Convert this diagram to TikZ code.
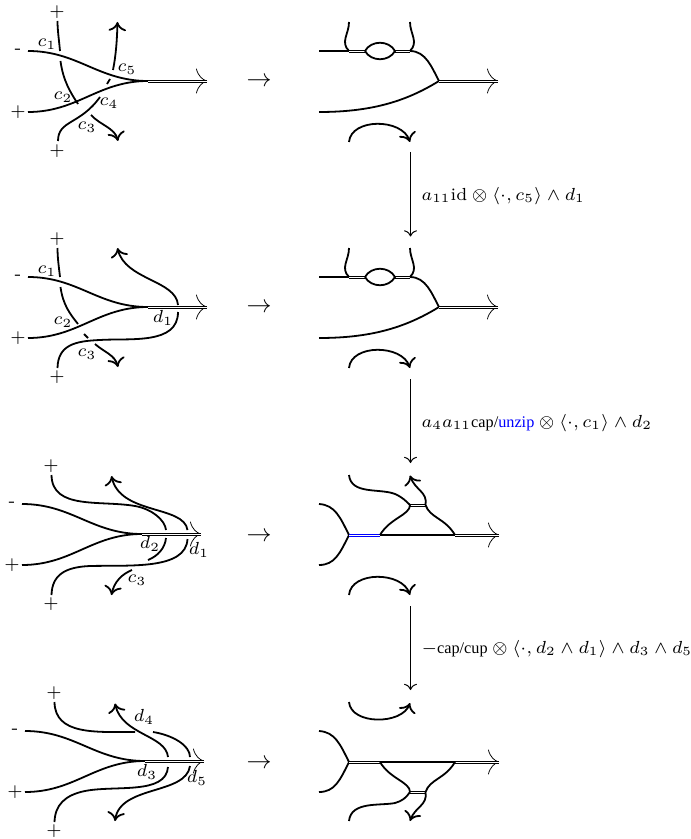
\documentclass[tikz,border=0pt]{standalone}
\usepackage{amsmath, amssymb}
\usepackage{fontspec}
\usepackage{tikz}
\usepackage{xcolor}
\usetikzlibrary{arrows.meta}
\newfontfamily\opfont{Liberation Serif}
\newcommand{\opname}[1]{\mbox{\fontsize{6.5}{8}\opfont #1}}
\tikzset{
  strand/.style={line width=.72pt},
  strandend/.style={strand,-{Computer Modern Rightarrow[length=3.6pt,width=7pt,line width=.72pt]}},
  doubled/.style={transform canvas={yshift=-.2pt},line width=1.2pt,draw=#1,postaction={draw=white,line width=.4pt}},
  doubled/.default=black,
  ziptip/.style={line width=.3pt,-{Computer Modern Rightarrow[length=4.4pt,width=10pt,line width=.3pt]}},
  zipped/.style={preaction={draw,ziptip},doubled,shorten >=.8pt},
  lbl/.style={font=\scriptsize,inner sep=0pt},
  sgn/.style={font=\scriptsize,inner sep=0pt,yshift=-.4pt},
  mapsym/.style={inner sep=0pt},
  step label/.style={font=\scriptsize,anchor=west,inner sep=0pt}
}
\newcommand{\incoming}[1]{
  \begin{scope}[shift={(#1)}]
    \node[sgn] (M) at (-10,-1) {-};
    \node[sgn] (P) at (-10,60) {+};
    \coordinate (J) at (120,30);
    \coordinate (E) at (181,30);
    \draw[strand] (0,0) .. controls (50,0) and (70,30) .. (J);
    \draw[strand] (0,61) .. controls (50,61) and (70,30) .. (J);
    \draw[zipped] (J) -- (E);
  \end{scope}
}
\newcommand{\lensright}[1]{
  \begin{scope}[yshift=#1*-.4pt]
    \coordinate (L) at (349,51);
    \coordinate (R) at (410,51);
    \coordinate (A) at (365,51);
    \coordinate (B) at (395,51);
    \coordinate (J) at (439,81);
    \coordinate (E) at (500,81);
    \draw[strand] (319,51) -- (L);
    \draw[doubled] (L) -- (A);
    \draw[doubled] (B) -- (R);
    \draw[strand] (A) .. controls (371,40) and (389,40) .. (B) .. controls (389,62) and (371,62) .. (A);
    \draw[strand] (349,22) .. controls (349,34) and (340,42) .. (L);
    \draw[strand] (410,22) .. controls (410,34) and (419,42) .. (R);
    \draw[strand] (R) .. controls (426,51) and (432,68) .. (J);
    \draw[strand] (319,112) .. controls (370,112) and (405,102) .. (J);
    \draw[zipped] (J) -- (E);
  \end{scope}
}
\newcommand{\capright}[1]{
  \coordinate (C1) at (349,#1);
  \coordinate (C2) at (410,#1);
  \draw[strandend] (C1) .. controls (351,#1-24) and (402,#1-24) .. (C2);
}
\begin{document}
\begin{tikzpicture}[x=.4pt,y=-.4pt]
  \useasboundingbox (0,0) rectangle (691,839);

  \incoming{28,51}
  \node[sgn] (P1) at (57,11) {+};
  \node[sgn] (P2) at (57,150) {+};
  \draw[strand] (57.5,21) .. controls (57.5,30) and (59,40) .. (60,51);
  \draw[strand] (60.5,61) .. controls (63,80) and (70,92) .. (78,104);
  \draw[strandend] (91,115) .. controls (100,125) and (115,128) .. (118,141);
  \draw[strand] (58,141) .. controls (58,120) and (80,125) .. (100,97);
  \draw[strand] (107,84) -- (110,79);
  \draw[strandend] (113,70) .. controls (116,55) and (117,40) .. (117.5,22);
  \node[lbl] (c1) at (47,44) {$c_1$};
  \node[lbl] (c5) at (127,69) {$c_5$};
  \node[lbl] (c2) at (63,97) {$c_2$};
  \node[lbl] (c4) at (109,103) {$c_4$};
  \node[lbl] (c3) at (87,127) {$c_3$};
  \node[mapsym] (T1) at (259,82) {$\rightarrow$};
  \lensright{0}
  \capright{142}
  \coordinate (V1) at (410.5,152);
  \coordinate (W1) at (410.5,236.5);
  \draw[->] (V1) to (W1);
  \node[step label] (S1) at (421,196) {$a_{11}\mathrm{id}\otimes\langle\cdot,c_5\rangle\wedge d_1$};

  \incoming{28,277}
  \node[sgn] (P3) at (57,238) {+};
  \node[sgn] (P4) at (57,376) {+};
  \draw[strand] (57.5,248) .. controls (57.5,258) and (59,268) .. (60,277);
  \draw[strand] (60.5,287) .. controls (63,305) and (70,314) .. (78,324);
  \draw[strand] (84,334) -- (88,338);
  \draw[strandend] (95,344) .. controls (104,352) and (115,355) .. (118,367);
  \draw[strandend] (178,305) .. controls (176,280) and (125,280) .. (117.5,248);
  \draw[strand] (178,312) .. controls (178,345) and (130,338) .. (100,340) .. controls (75,341) and (58,345) .. (57.5,368);
  \node[lbl] (c6) at (47,271) {$c_1$};
  \node[lbl] (c7) at (63,322) {$c_2$};
  \node[lbl] (c8) at (87,354) {$c_3$};
  \node[lbl] (d1) at (163,318) {$d_1$};
  \node[mapsym] (T2) at (259,308) {$\rightarrow$};
  \lensright{226}
  \capright{368}
  \coordinate (V2) at (410.5,379);
  \coordinate (W2) at (410.5,463);
  \draw[->] (V2) to (W2);
  \node[step label] (S2) at (421,423) {$a_4a_{11}\opname{cap/\textcolor{blue}{unzip}}\otimes\langle\cdot,c_1\rangle\wedge d_2$};

  \incoming{22,504}
  \node[sgn] (P5) at (51,465) {+};
  \node[sgn] (P6) at (51,603) {+};
  \draw[strand] (51.5,475) .. controls (52,510) and (100,500) .. (135,506) .. controls (152,509) and (165,520) .. (166,530);
  \draw[strand] (166,538) .. controls (165,548) and (158,556) .. (148,560);
  \draw[strandend] (187.5,530) .. controls (184,505) and (120,515) .. (111.5,476);
  \draw[strand] (187.5,539) .. controls (186,570) and (130,565) .. (90,566) .. controls (65,567) and (52,575) .. (51.5,595);
  \draw[strandend] (132,570) .. controls (122,574) and (114,582) .. (111.5,595);
  \node[lbl] (c9) at (137,580) {$c_3$};
  \node[lbl] (d2) at (150,544) {$d_2$};
  \node[lbl] (d3) at (199,550) {$d_1$};
  \node[mapsym] (T3) at (259,537) {$\rightarrow$};
  \coordinate (J) at (349,535);
  \coordinate (G) at (380,535);
  \coordinate (H) at (455,535);
  \coordinate (E) at (501,535);
  \coordinate (U) at (410,505);
  \coordinate (K) at (425.5,505);
  \draw[strand] (319,504) .. controls (335,505) and (340,517) .. (J) .. controls (340,553) and (335,565) .. (319,565);
  \draw[doubled=blue] (J) -- (G);
  \draw[strand] (G) -- (H);
  \draw[zipped] (H) -- (E);
  \draw[doubled] (U) -- (K);
  \draw[strand] (G) .. controls (390,518) and (410,515) .. (U);
  \draw[strand] (K) .. controls (430,518) and (445,518) .. (H);
  \draw[strand] (349,475) .. controls (351,495) and (380,488) .. (395,494) .. controls (402,497) and (406,501) .. (U);
  \draw[strandend] (K) .. controls (428,492) and (415,490) .. (410,475.5);
  \capright{595}
  \coordinate (V3) at (410.5,606);
  \coordinate (W3) at (410.5,690);
  \draw[->] (V3) to (W3);
  \node[step label] (S3) at (421,649) {$-\opname{cap/cup}\otimes\langle\cdot,d_2\wedge d_1\rangle\wedge d_3\wedge d_5$};

  \incoming{25,731}
  \node[sgn] (P7) at (54,692) {+};
  \node[sgn] (P8) at (54,830) {+};
  \draw[strand] (54.5,702) .. controls (55,735) and (95,732) .. (135,732);
  \draw[strand] (153,732) .. controls (172,735) and (190,745) .. (190,757);
  \draw[strandend] (168,757) .. controls (166,735) and (122,735) .. (115,703.5);
  \draw[strand] (168,767) .. controls (166,795) and (115,785) .. (85,791) .. controls (65,795) and (55,805) .. (54.5,822);
  \draw[strandend] (190,766) .. controls (186,795) and (120,785) .. (115,821);
  \node[lbl] (d4) at (144,717) {$d_4$};
  \node[lbl] (d5) at (147,772) {$d_3$};
  \node[lbl] (d6) at (197,778) {$d_5$};
  \node[mapsym] (T4) at (259,764) {$\rightarrow$};
  \coordinate (J) at (349,762);
  \coordinate (G) at (380,762);
  \coordinate (H) at (455,762);
  \coordinate (E) at (501,762);
  \coordinate (U) at (410,792);
  \coordinate (K) at (425.5,792);
  \draw[strand] (319,731) .. controls (335,732) and (340,744) .. (J) .. controls (340,780) and (335,792) .. (319,792);
  \draw[doubled] (J) -- (G);
  \draw[strand] (G) -- (H);
  \draw[zipped] (H) -- (E);
  \draw[doubled] (U) -- (K);
  \draw[strand] (G) .. controls (390,779) and (410,782) .. (U);
  \draw[strand] (K) .. controls (430,779) and (445,779) .. (H);
  \draw[strand] (U) .. controls (406,798) and (402,801) .. (395,803) .. controls (380,806) and (351,801) .. (349,821);
  \draw[strandend] (K) .. controls (428,805) and (415,807) .. (410,821);
  \coordinate (C3) at (349,702);
  \coordinate (C4) at (410,703);
  \draw[strandend] (C3) .. controls (351,725) and (402,725) .. (C4);
\end{tikzpicture}
\end{document}
